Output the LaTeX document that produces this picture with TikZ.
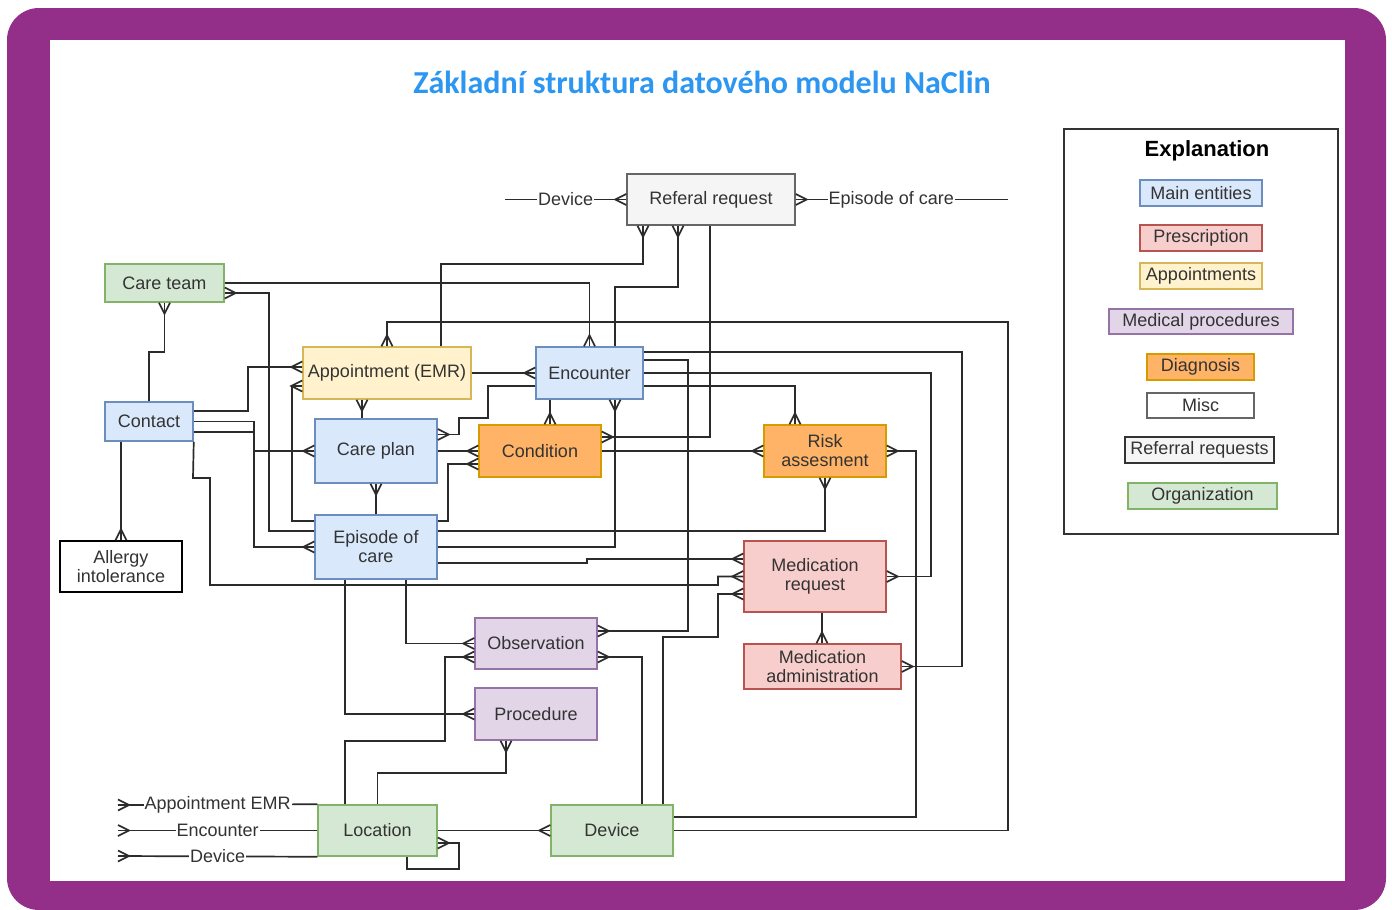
\documentclass[tikz,border=0pt]{standalone}
\usepackage{fontspec}
\setmainfont{Liberation Sans}
\newfontfamily\titlefont{Carlito}

\definecolor{framepurple}{RGB}{147,46,137}
\definecolor{titleblue}{RGB}{45,150,240}
\definecolor{txtgray}{HTML}{333333}
\definecolor{relline}{HTML}{2B2B2B}
\definecolor{mainfill}{HTML}{DAE8FC}
\definecolor{mainline}{HTML}{6C8EBF}
\definecolor{prescfill}{HTML}{F8CECC}
\definecolor{prescline}{HTML}{B85450}
\definecolor{apptfill}{HTML}{FFF2CC}
\definecolor{apptline}{HTML}{D6B656}
\definecolor{procfill}{HTML}{E1D5E7}
\definecolor{procline}{HTML}{9673A6}
\definecolor{diagfill}{HTML}{FFB366}
\definecolor{diagline}{HTML}{D79B00}
\definecolor{reffill}{HTML}{F5F5F5}
\definecolor{refline}{HTML}{666666}
\definecolor{orgfill}{HTML}{D5E8D4}
\definecolor{orgline}{HTML}{82B366}

% vraní noha (crow's foot)
\pgfdeclarearrow{
  name = crowfoot,
  setup code = {
    \pgfarrowssettipend{0pt}
    \pgfarrowssetlineend{0pt}
    \pgfarrowssetbackend{-11pt}
    \pgfarrowshullpoint{0pt}{5.5pt}
    \pgfarrowshullpoint{0pt}{-5.5pt}
    \pgfarrowshullpoint{-11pt}{0pt}
  },
  drawing code = {
    \pgfpathmoveto{\pgfqpoint{0pt}{5.5pt}}
    \pgfpathlineto{\pgfqpoint{-11pt}{0pt}}
    \pgfpathlineto{\pgfqpoint{0pt}{-5.5pt}}
    \pgfusepathqstroke
  }
}

\begin{document}
\begin{tikzpicture}[x=1pt, y=-1pt,
    ent/.style={draw, line width=1.5pt, inner sep=0pt, align=center, text=txtgray, font=\fontsize{18}{19}\selectfont},
    mainent/.style={ent, fill=mainfill, draw=mainline},
    presc/.style={ent, fill=prescfill, draw=prescline},
    apptbox/.style={ent, fill=apptfill, draw=apptline},
    medproc/.style={ent, fill=procfill, draw=procline},
    diag/.style={ent, fill=diagfill, draw=diagline},
    miscbox/.style={ent, fill=white, draw=black},
    refbox/.style={ent, fill=reffill, draw=refline},
    orgbox/.style={ent, fill=orgfill, draw=orgline},
    rel/.style={draw=relline, line width=1.7pt},
    lbl/.style={fill=white, inner sep=1pt, text=txtgray, font=\fontsize{18}{19}\selectfont}
]
    % Rámeček
    \useasboundingbox (0,0) rectangle (1392,910);
    \fill[framepurple, rounded corners=32pt] (7,8) rectangle (1386,910);
    \fill[white] (50,40) rectangle (1345,881);

    \node[text=titleblue, font=\fontsize{32}{36}\selectfont\titlefont\bfseries] (title) at (702,82) {Základní struktura datového modelu NaClin};

    % Entity
    \node[refbox, minimum width=168pt, minimum height=51pt] (ref) at (711,199.5) {Referal request};
    \node[orgbox, minimum width=119pt, minimum height=38pt] (careteam) at (164.5,283) {Care team};
    \node[apptbox, minimum width=168pt, minimum height=52pt] (appt) at (387,373) {Appointment (EMR)};
    \node[mainent, minimum width=107pt, minimum height=52pt] (enc) at (589.5,373) {Encounter};
    \node[mainent, minimum width=88pt, minimum height=39pt] (contact) at (149,421.5) {Contact};
    \node[mainent, minimum width=122pt, minimum height=64pt] (careplan) at (376,451) {Care plan};
    \node[diag, minimum width=122pt, minimum height=52pt] (cond) at (540,451) {Condition};
    \node[diag, minimum width=122pt, minimum height=52pt] (risk) at (825,451) {Risk\\assesment};
    \node[miscbox, minimum width=122pt, minimum height=51pt] (allergy) at (121,566.5) {Allergy\\intolerance};
    \node[mainent, minimum width=122pt, minimum height=64pt] (episode) at (376,547) {Episode of\\care};
    \node[presc, minimum width=142pt, minimum height=71pt] (medreq) at (815,576.5) {Medication\\request};
    \node[medproc, minimum width=122pt, minimum height=51pt] (obs) at (536,643.5) {Observation};
    \node[presc, minimum width=157pt, minimum height=45pt] (madm) at (822.5,666.5) {Medication\\administration};
    \node[medproc, minimum width=122pt, minimum height=52pt] (proc) at (536,714) {Procedure};
    \node[orgbox, minimum width=119pt, minimum height=51pt] (loc) at (377.5,830.5) {Location};
    \node[orgbox, minimum width=122pt, minimum height=51pt] (dev) at (612,830.5) {Device};

    % Volné konce
    \coordinate (refdev) at (505,199.5);
    \coordinate (refepi) at (1008,199.5);
    \coordinate (locappt) at (118,805);
    \coordinate (locenc) at (118,830.5);
    \coordinate (locdev) at (118,856);

    % Referal request
    \draw[rel, -{crowfoot}] (refdev) -- node[lbl] (lblrefdev) {Device} (ref.west);
    \draw[rel, {crowfoot}-] (ref.east) -- node[lbl, pos=0.45] (lblrefepi) {Episode of care} (refepi);
    \draw[rel, {crowfoot}-] ([xshift=-68pt]ref.south) -- (643,264) -- (441,264) -- ([xshift=54pt]appt.north);
    \draw[rel, {crowfoot}-] ([xshift=-33pt]ref.south) -- (678,287) -- (615,287) -- ([xshift=25.5pt]enc.north);
    \draw[rel, -{crowfoot}] ([xshift=-1pt]ref.south) -- (710,437) -- ([yshift=14pt]cond.east);

    % Care team
    \draw[rel, -{crowfoot}] (careteam.east) -| (enc.north);
    \draw[rel, {crowfoot}-] ([yshift=-10pt]careteam.east) -- (269,293) -- (269,531) -- ([yshift=16pt]episode.west);
    \draw[rel, -{crowfoot}] (contact.north) -- (149,352) -- (164.5,352) -- (careteam.south);

    % Appointment (EMR)
    \draw[rel, {crowfoot}-] (appt.north) -- (387,322) -- (1008,322) -- (1008,830.5) -- (dev.east);
    \draw[rel, -{crowfoot}] (appt.east) -- (enc.west);
    \draw[rel, {crowfoot}-] ([yshift=6pt]appt.west) -- (248,367) -- (248,411) -- ([yshift=10.5pt]contact.east);
    \draw[rel, {crowfoot}-] ([yshift=-13pt]appt.west) -- (292,386) -- (292,521) -- ([yshift=26pt]episode.west);
    \draw[rel, -{crowfoot}] ([xshift=-14pt]careplan.north) -- ([xshift=-25pt]appt.south);

    % Encounter
    \draw[rel, -{crowfoot}] ([yshift=-13pt]enc.west) -- (488,386) -- (488,418) -- (459,418) -- (459,434.5) -- ([yshift=16.5pt]careplan.east);
    \draw[rel, -{crowfoot}] ([xshift=-39.5pt]enc.south) -- ([xshift=10pt]cond.north);
    \draw[rel, -{crowfoot}] (episode.east) -- (615,547) -- ([xshift=25.5pt]enc.south);
    \draw[rel, -{crowfoot}] ([yshift=21pt]enc.east) -- (962,352) -- (962,666.5) -- (madm.east);
    \draw[rel, -{crowfoot}] ([yshift=13pt]enc.east) -- (688,360) -- (688,631) -- ([yshift=12.5pt]obs.east);
    \draw[rel, -{crowfoot}] (enc.east) -- (931,373) -- (931,576.5) -- (medreq.east);
    \draw[rel, -{crowfoot}] ([yshift=-13pt]enc.east) -- (795,386) -- ([xshift=-30pt]risk.north);

    % Condition a Risk assesment
    \draw[rel, -{crowfoot}] (careplan.east) -- (cond.west);
    \draw[rel, -{crowfoot}] ([yshift=26pt]episode.east) -- (448,521) -- (448,464) -- ([yshift=-13pt]cond.west);
    \draw[rel, -{crowfoot}] (cond.east) -- (risk.west);
    \draw[rel, {crowfoot}-] (risk.east) -- (916,451) -- (916,817) -- ([yshift=13.5pt]dev.east);
    \draw[rel, {crowfoot}-] (risk.south) -- (825,531) -- ([yshift=16pt]episode.east);

    % Contact
    \draw[rel, -{crowfoot}] (contact.east) -- (254,421.5) -- (254,547) -- (episode.west);
    \draw[rel, -{crowfoot}] ([yshift=-10.5pt]contact.east) -- (254,432) -- (254,451) -- (careplan.west);
    \draw[rel, -{crowfoot}] (contact.south east) -- (193,478) -- (210,478) -- (210,585) -- (718,585) -- (718,576.5) -- (medreq.west);
    \draw[rel, -{crowfoot}] ([xshift=-28pt]contact.south) -- (allergy.north);

    % Care plan a Episode of care
    \draw[rel, -{crowfoot}] (episode.north) -- (careplan.south);
    \draw[rel, -{crowfoot}] ([xshift=30pt]episode.south) -- (406,643.5) -- (obs.west);
    \draw[rel, -{crowfoot}] ([xshift=-31pt]episode.south) -- (345,714) -- (proc.west);
    \draw[rel, -{crowfoot}] ([yshift=-16pt]episode.east) -- (587,563) -- (587,559) -- ([yshift=17.5pt]medreq.west);

    % Observation a Procedure
    \draw[rel, -{crowfoot}] ([xshift=-32.5pt]loc.north) -- (345,741) -- (445,741) -- (445,657) -- ([yshift=-13.5pt]obs.west);
    \draw[rel, {crowfoot}-] ([yshift=-13.5pt]obs.east) -- (642,657) -- ([xshift=30pt]dev.north);
    \draw[rel, {crowfoot}-] ([xshift=-30pt]proc.south) -- (506,773) -- (377.5,773) -- (loc.north);

    % Medication
    \draw[rel, {crowfoot}-] ([yshift=-17.5pt]medreq.west) -- (718,594) -- (718,637) -- (663,637) -- ([xshift=51pt]dev.north);
    \draw[rel, -{crowfoot}] ([xshift=7pt]medreq.south) -- ([xshift=-0.5pt]madm.north);

    % Location
    \draw[rel, -{crowfoot}] (loc.north west) -- node[lbl] (lblappt) {Appointment EMR} (locappt);
    \draw[rel, -{crowfoot}] (loc.west) -- node[lbl] (lblenc) {Encounter} (locenc);
    \draw[rel, -{crowfoot}] (loc.south west) -- node[lbl] (lbldev) {Device} (locdev);
    \draw[rel, -{crowfoot}] (loc.east) -- (dev.west);
    \draw[rel, {crowfoot}-] ([yshift=-12.5pt]loc.east) -- (459,843) -- (459,869) -- (407,869) -- ([xshift=29.5pt]loc.south);

    % Legenda
    \node[draw=txtgray, line width=1.5pt, minimum width=274pt, minimum height=405pt, inner sep=0pt] (legend) at (1201,331.5) {};
    \node[font=\fontsize{22}{24}\selectfont\bfseries] (legtitle) at (1207,150.5) {Explanation};
    \node[mainent, minimum width=122pt, minimum height=26pt] (legmain) at (1201,193) {Main entities};
    \node[presc, minimum width=122pt, minimum height=26pt] (legpresc) at (1201,238) {Prescription};
    \node[apptbox, minimum width=122pt, minimum height=26pt] (legappt) at (1201,276) {Appointments};
    \node[medproc, minimum width=184pt, minimum height=25pt] (legproc) at (1201,321.5) {Medical procedures};
    \node[diag, minimum width=107pt, minimum height=26pt] (legdiag) at (1200.5,367) {Diagnosis};
    \node[miscbox, draw=refline, minimum width=107pt, minimum height=25pt] (legmisc) at (1200.5,405.5) {Misc};
    \node[refbox, draw=txtgray, minimum width=149pt, minimum height=26pt] (legref) at (1199.5,450) {Referral requests};
    \node[orgbox, minimum width=149pt, minimum height=26pt] (legorg) at (1202.5,496) {Organization};

\end{tikzpicture}
\end{document}
